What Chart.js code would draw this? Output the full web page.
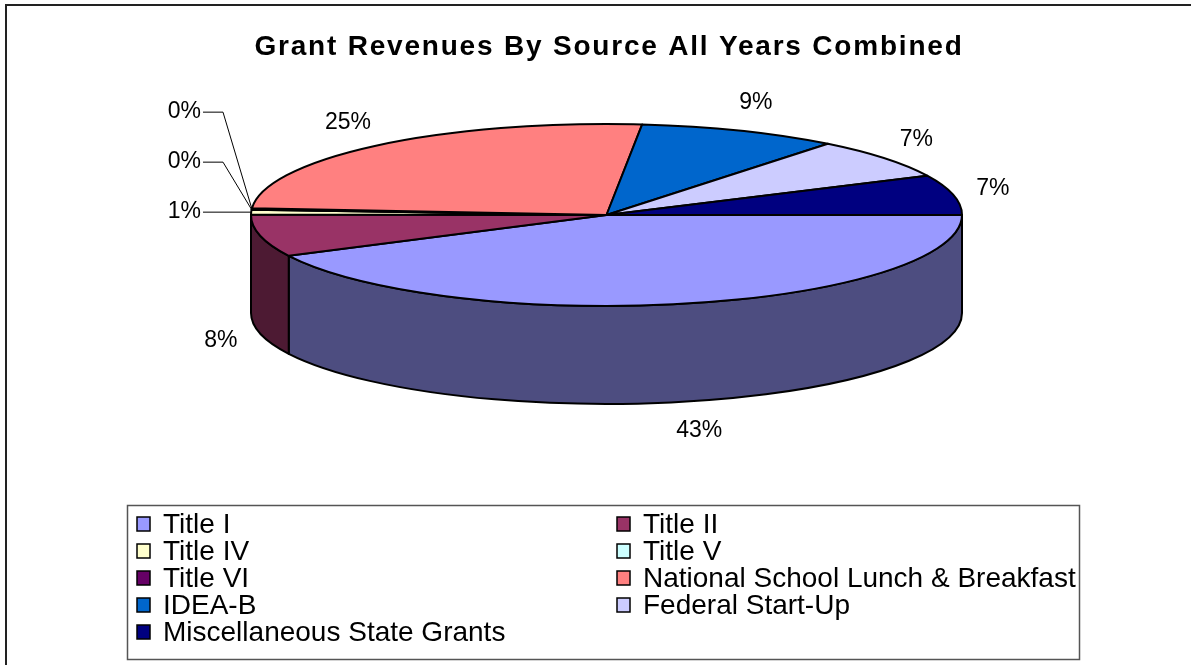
<!DOCTYPE html>
<html>
<head>
<meta charset="utf-8">
<script src="https://cdn.jsdelivr.net/npm/chart.js@4.4.0/dist/chart.umd.min.js"></script>
<style>
  html, body { margin: 0; padding: 0; background: #fff; overflow: hidden; }
  #wrap { width: 1191px; height: 665px; position: relative; }
</style>
</head>
<body>
<div id="wrap"><canvas id="c"></canvas></div>
<script>
// ---- data ----
const chartTitle = 'Grant Revenues By Source All Years Combined';
const categories = ['Title I', 'Title II', 'Title IV', 'Title V', 'Title VI',
  'National School Lunch & Breakfast', 'IDEA-B', 'Federal Start-Up', 'Miscellaneous State Grants'];
const shares = [42.6, 7.5, 0.8, 0.1, 0.2, 25.4, 9.1, 7.2, 7.1];
const sliceColors = ['#9999FF', '#993366', '#FFFFCC', '#CCFFFF', '#660066',
  '#FF8080', '#0066CC', '#CCCCFF', '#000080'];

// ---- layout constants ----
const GEO = { cx: 606.5, cy: 215, rx: 355.5, ry: 91, depth: 98 };
const FONT = '"Liberation Sans", Arial, Helvetica, sans-serif';

function darken(hex, f) {
  const n = parseInt(hex.slice(1), 16);
  const r = Math.round(((n >> 16) & 255) * f), g = Math.round(((n >> 8) & 255) * f), b = Math.round((n & 255) * f);
  return `rgb(${r},${g},${b})`;
}

const pie3d = {
  id: 'pie3d',
  beforeDatasetsDraw(chart) {
    const ctx = chart.ctx;
    const arcs = chart.getDatasetMeta(0).data;
    const colors = chart.data.datasets[0].backgroundColor;
    const { cx, cy, rx, ry, depth } = GEO;
    const TWO = Math.PI * 2;
    ctx.save();
    ctx.lineJoin = 'round';
    ctx.strokeStyle = '#000';
    ctx.lineWidth = 2;
    // side walls (front half: angles 0..PI)
    arcs.forEach((arc, i) => {
      let a = arc.startAngle, b;
      a = ((a % TWO) + TWO) % TWO; b = a + (arc.endAngle - arc.startAngle);
      const s = Math.max(a, 0), e = Math.min(b, Math.PI);
      if (e - s <= 1e-6) return;
      ctx.beginPath();
      ctx.ellipse(cx, cy, rx, ry, 0, s, e, false);
      ctx.lineTo(cx + rx * Math.cos(e), cy + ry * Math.sin(e) + depth);
      ctx.ellipse(cx, cy + depth, rx, ry, 0, e, s, true);
      ctx.closePath();
      ctx.fillStyle = darken(colors[i], 0.5);
      ctx.fill();
      ctx.stroke();
    });
    // top faces
    arcs.forEach((arc, i) => {
      if (arc.endAngle - arc.startAngle <= 0) return;
      ctx.beginPath();
      ctx.moveTo(cx, cy);
      ctx.ellipse(cx, cy, rx, ry, 0, arc.startAngle, arc.endAngle, false);
      ctx.closePath();
      ctx.fillStyle = colors[i];
      ctx.fill();
      ctx.stroke();
    });
    ctx.restore();
    return false;
  },
  afterDraw(chart) {
    const ctx = chart.ctx;
    const arcs = chart.getDatasetMeta(0).data;
    const vals = chart.data.datasets[0].data;
    const colors = chart.data.datasets[0].backgroundColor;
    const total = vals.reduce((p, v) => p + v, 0);
    const { cx, cy, rx, ry, depth } = GEO;
    ctx.save();
    // outer frame
    ctx.strokeStyle = '#222';
    ctx.lineWidth = 2;
    ctx.beginPath();
    ctx.moveTo(6, 666); ctx.lineTo(6, 5); ctx.lineTo(1192, 5);
    ctx.stroke();

    // title
    ctx.fillStyle = '#000';
    ctx.font = `bold 28px ${FONT}`;
    ctx.letterSpacing = '1.8px';
    ctx.textAlign = 'center';
    ctx.textBaseline = 'alphabetic';
    ctx.fillText(chartTitle, 609, 55);
    ctx.letterSpacing = '0px';

    // percentage labels
    ctx.font = `23px ${FONT}`;
    ctx.textBaseline = 'middle';
    ctx.lineWidth = 1;
    ctx.strokeStyle = '#000';
    let smallIdx = 0, smallBase = null;
    arcs.forEach((arc, i) => {
      const pct = vals[i] / total * 100;
      const txt = Math.round(pct) + '%';
      const mid = (arc.startAngle + arc.endAngle) / 2;
      const c = Math.cos(mid), s = Math.sin(mid);
      const px = cx + rx * c, py = cy + ry * s + (s > 0 ? depth : 0);
      const w = ctx.measureText(txt).width;
      if (pct < 1.5) {
        if (smallBase === null) smallBase = py;
        const ly = smallBase - 50 * smallIdx;
        const right = cx - rx - 50;
        ctx.textAlign = 'right';
        ctx.fillText(txt, right, ly);
        ctx.beginPath();
        ctx.moveTo(right + 2, ly);
        ctx.lineTo(right + 22, ly);
        ctx.lineTo(px, py);
        ctx.stroke();
        smallIdx++;
      } else {
        ctx.textAlign = 'center';
        ctx.fillText(txt, px + c * (24 + w / 2), py + s * 30);
      }
    });

    // legend
    const box = { x: 127.5, y: 505.5, w: 952, h: 154 };
    ctx.strokeStyle = '#555';
    ctx.lineWidth = 1.5;
    ctx.strokeRect(box.x, box.y, box.w, box.h);
    ctx.font = `28px ${FONT}`;
    ctx.textAlign = 'left';
    ctx.textBaseline = 'middle';
    const colX = [137, 617];
    chart.data.labels.forEach((lab, i) => {
      const col = i % 2, row = Math.floor(i / 2);
      const x = colX[col], y = 524 + row * 27;
      ctx.fillStyle = colors[i];
      ctx.fillRect(x, y - 7, 13, 14);
      ctx.strokeStyle = '#000';
      ctx.lineWidth = 1.5;
      ctx.strokeRect(x, y - 7, 13, 14);
      ctx.fillStyle = '#000';
      ctx.fillText(lab, x + 26, y + 1);
    });
    ctx.restore();
  }
};

new Chart(document.getElementById('c'), {
  type: 'pie',
  data: {
    labels: categories,
    datasets: [{ data: shares, backgroundColor: sliceColors, borderColor: '#000', borderWidth: 2 }]
  },
  options: {
    responsive: true,
    maintainAspectRatio: false,
    animation: false,
    rotation: 90,
    events: [],
    plugins: { legend: { display: false }, title: { display: false }, tooltip: { enabled: false } }
  },
  plugins: [pie3d]
});
</script>
</body>
</html>
